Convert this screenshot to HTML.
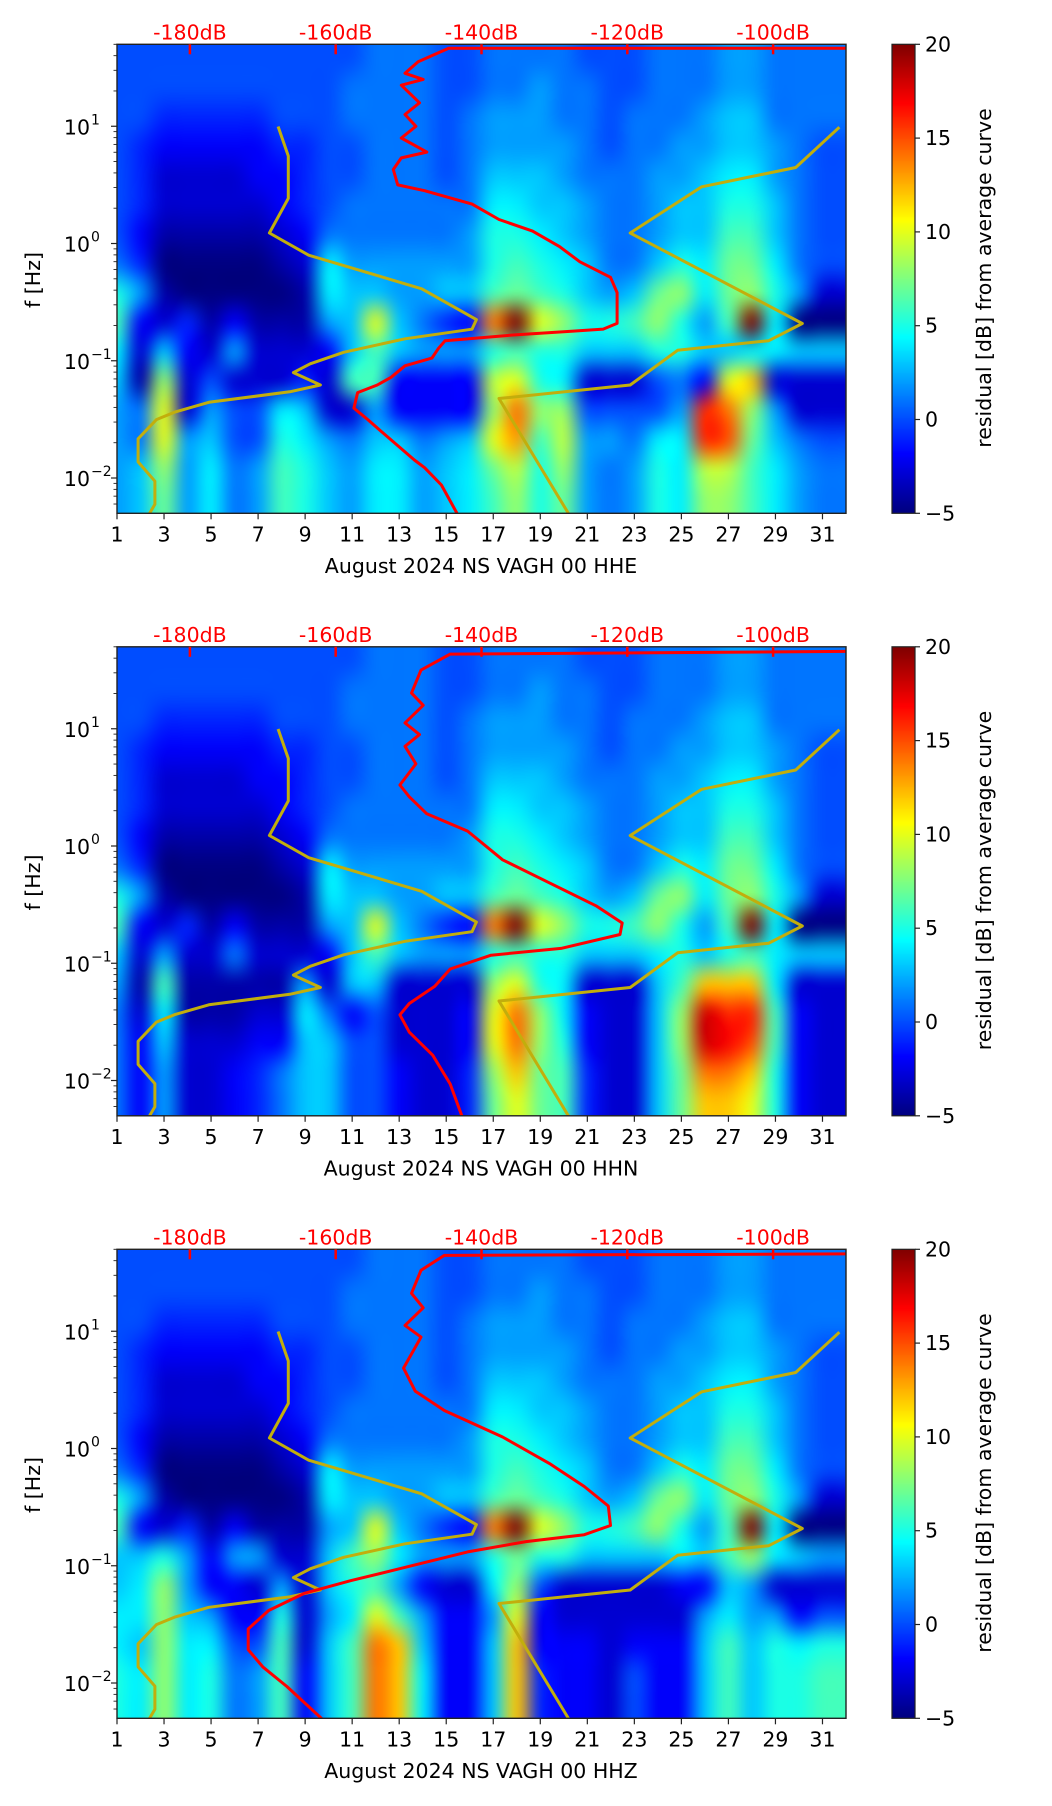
<!DOCTYPE html>
<html><head><meta charset="utf-8">
<style>
html,body{margin:0;padding:0;background:#fff;}
#wrap{position:relative;width:1052px;height:1806px;overflow:hidden;font-family:"DejaVu Sans","Liberation Sans",sans-serif;}
canvas{position:absolute;}
svg{position:absolute;left:0;top:0;}
</style></head>
<body>
<div id="wrap">
<svg id="svg" width="1052" height="1806"></svg>
</div>
<script>
// ---------- data ----------
const panelTitles = ["August 2024 NS VAGH 00 HHE","August 2024 NS VAGH 00 HHN","August 2024 NS VAGH 00 HHZ"];
const dayTicks = [1,3,5,7,9,11,13,15,17,19,21,23,25,27,29,31];
const freqDecades = [-2,-1,0,1];
const decadeLabels = ["\u22122","\u22121","0","1"];
const dbTicks = [-180,-160,-140,-120,-100];
const cbTicks = [-5,0,5,10,15,20];
// residual grid rows: log10 f centers 1.575 down to -2.175 (0.25 step), columns centered on days 1..31
const upperRows = [
[0,0,0,0,0,0,0,0,0,0,0,1,1,1,0,0,1,1,1,1,0,0,0,1,1,1,2,2,1,1,1],
[0,0,0,0,0,0,0,0,0,0,1,1,1,1,0,0,1,1,2,1,1,0,0,1,1,1,2,2,1,1,1],
[0,0,-1,-1,-1,-1,-1,0,0,0,1,1,1,1,0,1,2,2,2,1,1,0,1,1,1,2,3,3,1,1,1],
[0,-1,-2,-2,-2,-2,-2,-1,-1,0,0,1,1,1,0,1,2,2,2,2,1,0,1,1,2,2,3,3,2,1,0],
[0,-1,-3,-3,-3,-3,-2,-2,-1,0,0,1,1,1,0,1,3,3,3,2,1,1,1,2,2,3,4,4,2,1,0],
[0,-1,-3,-3,-3,-3,-3,-2,-1,0,1,1,1,1,1,1,4,4,3,3,2,1,1,2,3,3,5,5,3,1,0],
[0,-2,-4,-4,-4,-4,-4,-3,-2,1,1,1,1,1,1,2,5,5,4,3,2,1,1,2,3,3,6,6,3,1,0],
[1,-1,-5,-5,-5,-5,-5,-4,-3,4,2,2,2,2,2,2,5,6,5,4,3,1,1,3,5,4,7,7,4,1,0],
[5,2,-4,-5,-5,-5,-5,-5,-4,4,3,3,2,2,3,3,6,7,6,5,3,2,3,7,8,4,7,8,5,2,-3],
[6,-2,-3,-1,-4,-2,-4,-4,-4,2,3,10,3,1,-1,-2,14,20,10,8,5,5,6,8,5,2,6,20,4,-5,-5]
];
const lowRowsE = [
[4,-3,3,-2,-3,2,-3,-3,-3,-2,3,6,3,2,2,2,5,6,5,5,3,3,3,5,5,3,3,4,4,3,3],
[3,-4,8,-3,0,-3,-3,-3,-1,-3,6,6,-2,-2,-2,-2,9,10,5,4,-3,-3,-3,0,1,-2,10,12,-3,-3,-3],
[2,1,10,-3,2,0,0,4,3,-3,-3,2,-2,-2,-2,-2,8,14,8,8,0,0,0,0,2,16,14,8,2,-3,-3],
[2,1,10,2,3,0,0,5,4,2,1,3,3,1,2,3,10,13,6,9,2,2,1,4,4,16,15,7,3,1,0],
[2,3,8,2,4,1,2,6,5,3,2,4,4,2,3,4,7,9,5,8,2,1,2,5,4,9,9,6,4,2,1],
[2,3,7,2,4,1,2,6,5,3,2,4,4,2,3,4,6,8,5,7,2,1,2,5,4,8,8,6,4,2,1]
];
const lowRowsN = [
[3,-3,2,-3,-3,1,-3,-3,-3,-2,3,6,3,2,2,2,5,6,5,5,3,3,3,4,5,3,5,6,4,3,3],
[2,-4,6,-4,-4,-4,-4,-4,2,-3,3,3,-3,-3,-3,-3,8,10,5,4,-3,-3,-3,3,6,12,12,12,4,-3,-3],
[1,-3,4,-4,-4,-4,-3,-3,4,1,-2,0,-3,-3,-3,-2,10,14,8,4,-2,-3,-3,3,8,18,16,16,6,-2,-3],
[1,-2,3,-3,-3,-3,-2,-2,3,3,0,0,-3,-3,-3,-2,10,14,8,5,-2,-3,-3,3,8,18,17,15,6,-2,-3],
[1,-2,2,-3,-3,-2,-1,1,3,3,0,0,-2,-3,-3,-1,8,12,7,6,-1,-3,-3,3,7,14,14,12,5,-2,-3],
[1,-2,2,-3,-3,-2,-1,1,3,3,0,0,-2,-3,-3,-1,7,10,7,6,-1,-3,-3,3,7,12,12,10,5,-2,-3]
];
const lowRowsZ = [
[3,3,5,2,-2,2,2,-3,-3,3,6,8,4,2,2,2,5,7,5,5,3,3,3,3,4,3,6,8,4,3,2],
[3,4,8,2,-2,-2,-3,2,-3,3,5,6,2,-2,-3,-3,4,8,0,-3,-3,-3,-3,-3,-2,-2,3,2,-3,-3,-3],
[4,4,8,3,2,-2,-2,5,-3,2,4,10,6,2,-2,-2,2,10,-2,-3,-3,-3,-3,-3,-3,2,4,2,2,-2,0],
[4,3,8,4,4,0,0,6,-3,3,6,14,12,3,-2,-2,3,12,-2,-2,-2,-3,-2,-2,-2,3,6,3,5,4,5],
[5,4,8,4,5,1,2,6,-2,3,6,14,12,4,-2,-2,3,12,-1,-2,-2,-3,0,-2,-2,3,6,3,5,5,6],
[5,4,8,4,5,1,2,6,-2,3,6,14,12,4,-2,-2,3,12,-1,-2,-2,-3,0,-2,-2,3,6,3,5,5,6]
];
// average PSD curves: dB and log10(f)
const psdE_db = [-90,-144.5,-148.7,-150.5,-148,-151,-148.5,-150.5,-149,-151,-147.5,-151,-152.1,-151.5,-147.8,-141.3,-137.6,-133,-129.3,-126.5,-122.3,-121.4,-121.4,-123.3,-127.4,-135.7,-145,-145.9,-146.8,-150.5,-152.4,-154.3,-157,-157.5,-155.6,-153.8,-149.2,-147.8,-145.5,-143.2];
const psdE_lf = [1.665,1.665,1.55,1.452,1.4,1.35,1.2,1.1,1.0,0.9,0.78,0.73,0.631,0.5,0.45,0.336,0.205,0.106,-0.026,-0.156,-0.288,-0.419,-0.681,-0.73,-0.747,-0.78,-0.829,-0.894,-0.977,-1.043,-1.141,-1.207,-1.272,-1.404,-1.502,-1.6,-1.846,-1.912,-2.06,-2.32];
const psdN_db = [-90,-144.3,-148.3,-149.6,-148,-150.5,-148.5,-150.5,-149,-151.2,-149.9,-147.5,-141.9,-137.1,-130.7,-124.3,-120.7,-121,-129.1,-138.7,-144.3,-146.4,-149.9,-151.2,-149.9,-146.7,-144.3,-142.7];
const psdN_lf = [1.66,1.637,1.5,1.304,1.2,1.05,0.95,0.85,0.7,0.52,0.42,0.275,0.127,-0.118,-0.314,-0.51,-0.657,-0.755,-0.873,-0.931,-1.049,-1.196,-1.343,-1.44,-1.588,-1.784,-2.03,-2.3];
const psdZ_db = [-90,-145.1,-148.3,-149.6,-148,-150.5,-148.3,-150.7,-149.1,-145.1,-137.1,-130.7,-125.9,-122.6,-122.3,-125.9,-133.9,-141.9,-151.5,-157.9,-164.3,-169.2,-172,-172,-170,-166.7,-161.9];
const psdZ_lf = [1.66,1.647,1.52,1.324,1.2,1.05,0.95,0.686,0.49,0.324,0.098,-0.127,-0.324,-0.49,-0.657,-0.735,-0.794,-0.882,-1.029,-1.127,-1.235,-1.382,-1.539,-1.716,-1.863,-2.03,-2.304];
// noise models
const nlnm_db = [-167.9,-166.5,-166.5,-169.1,-163.7,-148.2,-140.7,-141.3,-150.5,-158.9,-163.5,-165.8,-162.1,-166.3,-177.4,-182,-184.6,-187.1,-187.1,-184.8,-184.8,-185.7];
const nlnm_lf = [0.998,0.746,0.385,0.09,-0.1,-0.386,-0.649,-0.731,-0.813,-0.928,-1.026,-1.101,-1.207,-1.265,-1.354,-1.436,-1.502,-1.666,-1.863,-2.027,-2.224,-2.32];
const nhnm_db = [-90.9,-96.9,-109.8,-119.6,-96,-100.6,-113.1,-119.6,-137.6,-127.9];
const nhnm_lf = [0.992,0.648,0.484,0.09,-0.682,-0.829,-0.911,-1.207,-1.322,-2.32];

// ---------- layout ----------
const PX0=117, PX1=846, PY0=44.3, PY1=513.3, DY=602.5;
const DAY0=1, DAY1=32, LF0=-2.301, LF1=1.699, DB0=-190, DB1=-90;
const CBX0=892, CBX1=915;
const FS=20.5;
const xDay = d => PX0 + (d-DAY0)/(DAY1-DAY0)*(PX1-PX0);
const yLf = (lf,oy) => oy + PY1 - (lf-LF0)/(LF1-LF0)*(PY1-PY0);
const xDb = db => PX0 + (db-DB0)/(DB1-DB0)*(PX1-PX0);
const yCb = (v,oy) => oy + PY1 - (v+5)/25*(PY1-PY0);

function jet(t){t=Math.max(0,Math.min(1,t));
  const f=(x)=>Math.max(0,Math.min(1,x));
  return [f(1.5-Math.abs(4*t-3)),f(1.5-Math.abs(4*t-2)),f(1.5-Math.abs(4*t-1))].map(v=>Math.round(v*255));}

const svg=document.getElementById('svg');
const NS='http://www.w3.org/2000/svg';
const wrap=document.getElementById('wrap');
function mk(tag,attrs,parent){const e=document.createElementNS(NS,tag);for(const k in attrs)e.setAttribute(k,attrs[k]);(parent||svg).appendChild(e);return e;}

const grids=[upperRows.concat(lowRowsE),upperRows.concat(lowRowsN),upperRows.concat(lowRowsZ)];
const psds=[[psdE_db,psdE_lf],[psdN_db,psdN_lf],[psdZ_db,psdZ_lf]];
const dark='#222';

for(let p=0;p<3;p++){
  const oy=p*DY;
  const g=mk('g',{});
  
  
  // heatmap
  const grid=grids[p];
  const rows=grid.length, cols=grid[0].length;
  const small=document.createElement('canvas');small.width=cols+1;small.height=rows;
  const sctx=small.getContext('2d');const img=sctx.createImageData(cols+1,rows);
  for(let r=0;r<rows;r++)for(let c=0;c<=cols;c++){const v=grid[r][Math.min(c,cols-1)];const col=jet((v+5)/25);const i=(r*(cols+1)+c)*4;img.data[i]=col[0];img.data[i+1]=col[1];img.data[i+2]=col[2];img.data[i+3]=255;}
  sctx.putImageData(img,0,0);
  const cv=document.createElement('canvas');
  
  
  const W=Math.round(PX1-PX0),H=Math.round(PY1-PY0);
  cv.width=W;cv.height=H;cv.style.left=PX0+'px';cv.style.top=(oy+PY0)+'px';
  const ctx=cv.getContext('2d');ctx.imageSmoothingEnabled=true;ctx.imageSmoothingQuality='high';
  // column c centered on day c+1
  const dx0=xDay(0.5)-PX0, dx1=xDay(cols+1.5)-PX0;
  ctx.drawImage(small,0,0,cols+1,rows,dx0,0,dx1-dx0,H);
  wrap.insertBefore(cv,svg);
  // colorbar
  const cb=document.createElement('canvas');
  
  
  cb.width=CBX1-CBX0;cb.height=H;cb.style.left=CBX0+'px';cb.style.top=(oy+PY0)+'px';
  const cctx=cb.getContext('2d');
  for(let y=0;y<H;y++){const c=jet(1-y/(H-1));cctx.fillStyle=`rgb(${c[0]},${c[1]},${c[2]})`;cctx.fillRect(0,y,CBX1-CBX0,1);}
  wrap.insertBefore(cb,svg);
  mk('rect',{x:CBX0,y:oy+PY0,width:CBX1-CBX0,height:PY1-PY0,fill:'none',stroke:dark,'stroke-width':1.2},g);
  cbTicks.forEach(v=>{const y=yCb(v,oy);
    mk('line',{x1:CBX1,x2:CBX1+5,y1:y,y2:y,stroke:dark,'stroke-width':1.2},g);
    const t=mk('text',{x:CBX1+10,y:y+7,'font-size':FS,fill:'#000'},g);t.textContent=(v<0?'\u2212'+(-v):v);
    
    
  });
  const cl=mk('text',{x:0,y:0,'font-size':FS,fill:'#000','text-anchor':'middle',transform:`translate(991,${oy+278}) rotate(-90)`},g);
  cl.textContent='residual [dB] from average curve';
  
  
  // curves (clip)
  const cid='clip'+p;const cp=mk('clipPath',{id:cid},g);mk('rect',{x:PX0,y:oy+PY0,width:PX1-PX0,height:PY1-PY0},cp);
  const cg=mk('g',{'clip-path':`url(#${cid})`},g);
  const pathOf=(dbs,lfs)=>dbs.map((d,i)=>(i?'L':'M')+xDb(d).toFixed(1)+','+yLf(lfs[i],oy).toFixed(1)).join(' ');
  const l1=mk('path',{d:pathOf(nlnm_db,nlnm_lf),fill:'none',stroke:'#c2ae0c','stroke-width':3,'stroke-linejoin':'round'},cg);
  
  
  const l2=mk('path',{d:pathOf(nhnm_db,nhnm_lf),fill:'none',stroke:'#c2ae0c','stroke-width':3,'stroke-linejoin':'round'},cg);
  
  
  const l3=mk('path',{d:pathOf(psds[p][0],psds[p][1]),fill:'none',stroke:'#f00','stroke-width':3,'stroke-linejoin':'round'},cg);
  
  
  // frame
  mk('rect',{x:PX0,y:oy+PY0,width:PX1-PX0,height:PY1-PY0,fill:'none',stroke:dark,'stroke-width':1.4},g);
  // x ticks
  dayTicks.forEach(d=>{const x=xDay(d);
    mk('line',{x1:x,x2:x,y1:oy+PY1,y2:oy+PY1+6,stroke:dark,'stroke-width':1.2},g);
    const t=mk('text',{x:x,y:oy+PY1+28,'font-size':FS,'text-anchor':'middle',fill:'#000'},g);t.textContent=d;
    
    
  });
  const xl=mk('text',{x:481,y:oy+573,'font-size':FS,'text-anchor':'middle',fill:'#000'},g);xl.textContent=panelTitles[p];
  
  
  // y ticks
  for(let dec=-3;dec<=1;dec++)for(let m=1;m<=9;m++){const lf=dec+Math.log10(m);if(lf<LF0||lf>LF1)continue;
    const y=yLf(lf,oy);const len=m===1?6:3.5;
    mk('line',{x1:PX0-len,x2:PX0,y1:y,y2:y,stroke:dark,'stroke-width':m===1?1.2:0.9},g);}
  freqDecades.forEach((d,i)=>{const y=yLf(d,oy);
    const t=mk('text',{x:90,y:y+8,'font-size':FS,'text-anchor':'end',fill:'#000'},g);t.textContent='10';
    
    
    const s=mk('text',{x:91,y:y-2,'font-size':14,'text-anchor':'start',fill:'#000'},g);s.textContent=decadeLabels[i];
  });
  const yl=mk('text',{x:0,y:0,'font-size':FS,'text-anchor':'middle',fill:'#000',transform:`translate(40,${oy+280}) rotate(-90)`},g);yl.textContent='f [Hz]';
  
  
  // top dB axis
  dbTicks.forEach(v=>{const x=xDb(v);
    mk('line',{x1:x,x2:x,y1:oy+PY0,y2:oy+PY0+10,stroke:'#f00','stroke-width':2.5},g);
    const t=mk('text',{x:x,y:oy+PY0-5,'font-size':FS,'text-anchor':'middle',fill:'#f00'},g);t.textContent=v+'dB';
    
    
  });
}
</script>
</body></html>
